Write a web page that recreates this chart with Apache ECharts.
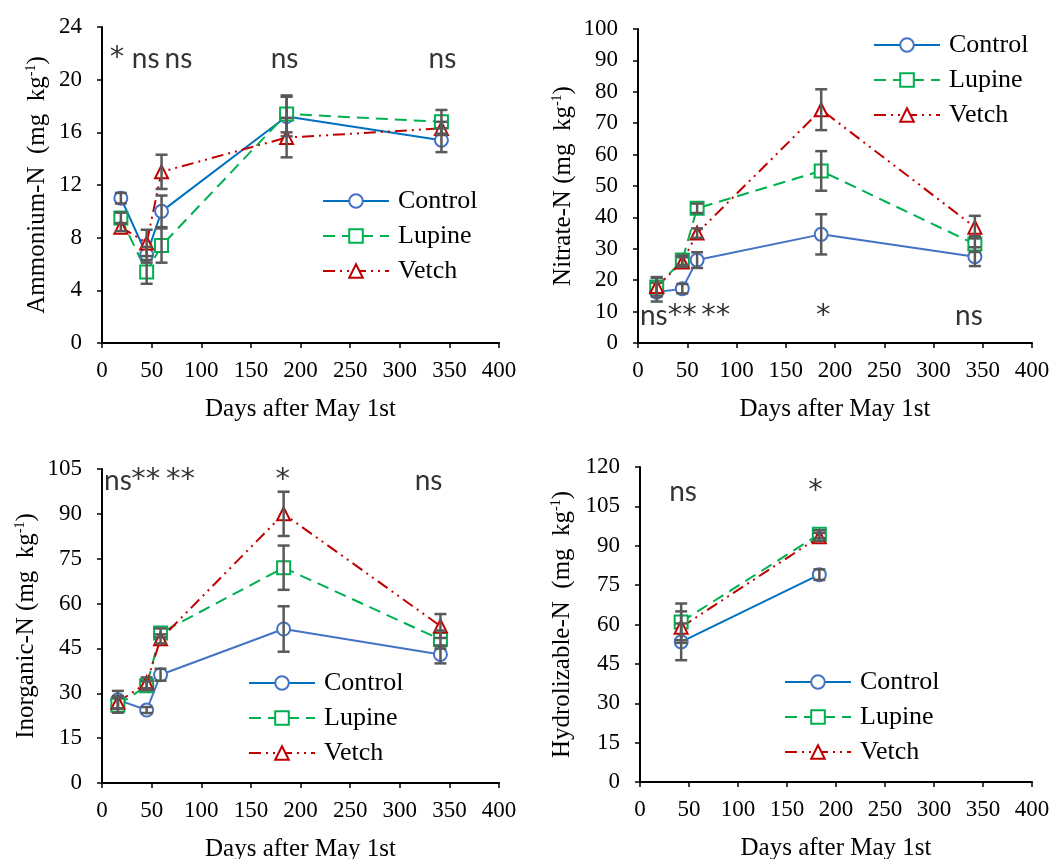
<!DOCTYPE html>
<html><head><meta charset="utf-8">
<script src="https://cdn.jsdelivr.net/npm/echarts@6/dist/echarts.min.js"></script>
<style>html,body{margin:0;padding:0;background:#fff}#c{width:1056px;height:859px}</style>
</head><body><div id="c"></div>
<script>
const seriesNames = ['Control', 'Lupine', 'Vetch'];

// Panel 1: Ammonium-N
const ammDays = [19, 45, 60, 186, 342];
const ammControl = [11.0, 6.7, 10.0, 17.2, 15.4];
const ammLupine = [9.5, 5.4, 7.4, 17.4, 16.8];
const ammVetch = [8.8, 7.6, 13.0, 15.6, 16.3];
const ammControlErr = [0.4, 0.6, 1.2, 1.5, 0.9];
const ammLupineErr = [0.4, 0.9, 1.3, 1.4, 0.9];
const ammVetchErr = [0.3, 1.0, 1.3, 1.5, 0.5];
const ammSigX = [15, 44, 77, 184, 343];
const ammSigText = ['*', 'ns', 'ns', 'ns', 'ns'];
const ammSigY = 21.6;

// Panel 2: Nitrate-N
const nitDays = [19, 45, 60, 186, 342];
const nitControl = [16.2, 17.3, 26.4, 34.6, 27.5];
const nitLupine = [17.8, 26.4, 42.9, 54.8, 31.5];
const nitVetch = [18.0, 25.8, 35.0, 74.3, 36.9];
const nitControlErr = [3.0, 1.5, 2.5, 6.4, 3.0];
const nitLupineErr = [3.0, 1.5, 1.5, 6.3, 2.5];
const nitVetchErr = [3.0, 1.5, 1.5, 6.5, 3.6];
const nitSigX = [16, 45, 79, 188, 336];
const nitSigText = ['ns', '**', '**', '*', 'ns'];
const nitSigY = 8.6;

// Panel 3: Inorganic-N
const inoDays = [16, 45, 59, 183, 341];
const inoControl = [27.8, 24.4, 36.2, 51.5, 43.0];
const inoLupine = [26.0, 32.5, 50.2, 72.0, 48.0];
const inoVetch = [27.0, 33.5, 48.2, 90.0, 52.5];
const inoControlErr = [3.0, 1.0, 2.0, 7.6, 3.0];
const inoLupineErr = [2.5, 1.5, 1.5, 7.4, 3.0];
const inoVetchErr = [2.0, 1.8, 1.5, 7.4, 4.0];
const inoSigX = [16, 44, 79, 182, 329];
const inoSigText = ['ns', '**', '**', '*', 'ns'];
const inoSigY = 101;

// Panel 4: Hydrolizable-N
const hydDays = [42, 183];
const hydControl = [53.4, 79.0];
const hydLupine = [61.0, 94.4];
const hydVetch = [59.0, 93.4];
const hydControlErr = [7.0, 2.0];
const hydLupineErr = [7.0, 1.5];
const hydVetchErr = [6.0, 1.5];
const hydSigX = [44, 179];
const hydSigText = ['ns', '*'];
const hydSigY = 110.5;

const xTickMax = 400, xTickStep = 50;

const panels = [
  { days: ammDays, vals: [ammControl, ammLupine, ammVetch], errs: [ammControlErr, ammLupineErr, ammVetchErr],
    sigX: ammSigX, sigText: ammSigText, sigY: ammSigY, yMax: 24, yStep: 4,
    yName: 'Ammonium-N  (mg  kg{sup|-1})', nameGap: 52,
    grid: { left: 102, top: 27, width: 397, height: 316 }, legend: { left: 317, top: 183 }, ctrlLine: '#0070C0' },
  { days: nitDays, vals: [nitControl, nitLupine, nitVetch], errs: [nitControlErr, nitLupineErr, nitVetchErr],
    sigX: nitSigX, sigText: nitSigText, sigY: nitSigY, yMax: 100, yStep: 10,
    yName: 'Nitrate-N (mg  kg{sup|-1})', nameGap: 62,
    grid: { left: 638, top: 29, width: 394, height: 314 }, legend: { left: 868, top: 27 }, ctrlLine: '#4472C4' },
  { days: inoDays, vals: [inoControl, inoLupine, inoVetch], errs: [inoControlErr, inoLupineErr, inoVetchErr],
    sigX: inoSigX, sigText: inoSigText, sigY: inoSigY, yMax: 105, yStep: 15,
    yName: 'Inorganic-N (mg  kg{sup|-1})', nameGap: 63,
    grid: { left: 102, top: 469, width: 397, height: 314 }, legend: { left: 243, top: 665 }, ctrlLine: '#4472C4' },
  { days: hydDays, vals: [hydControl, hydLupine, hydVetch], errs: [hydControlErr, hydLupineErr, hydVetchErr],
    sigX: hydSigX, sigText: hydSigText, sigY: hydSigY, yMax: 120, yStep: 15,
    yName: 'Hydrolizable-N  (mg  kg{sup|-1})', nameGap: 65,
    grid: { left: 640, top: 467, width: 392, height: 315 }, legend: { left: 779, top: 664 }, ctrlLine: '#0070C0' }
];

const serif = 'Liberation Serif, Times New Roman, serif';
const markerColors = ['#4472C4', '#00B050', '#C00000'];
const symbols = ['emptyCircle', 'emptyRect', 'emptyTriangle'];
const dashes = ['solid', [12, 7], [12, 5, 2, 5, 2, 5]];

const option = { animation: false, backgroundColor: '#fff', grid: [], xAxis: [], yAxis: [], legend: [], series: [] };

panels.forEach((p, i) => {
  option.grid.push(Object.assign({ outerBoundsMode: 'none', containLabel: false }, p.grid));
  option.xAxis.push({
    type: 'value', gridIndex: i, min: 0, max: xTickMax, interval: xTickStep,
    name: 'Days after May 1st', nameLocation: 'middle', nameGap: 54,
    nameTextStyle: { fontFamily: serif, fontSize: 25, color: '#000' },
    axisLine: { show: true, onZero: false, lineStyle: { color: '#000', width: 2 } },
    axisTick: { show: true, length: 5, lineStyle: { color: '#000', width: 1.5 } },
    axisLabel: { fontFamily: serif, fontSize: 23, color: '#000', margin: 16 },
    splitLine: { show: false }
  });
  option.yAxis.push({
    type: 'value', gridIndex: i, min: 0, max: p.yMax, interval: p.yStep,
    name: p.yName, nameLocation: 'middle', nameGap: p.nameGap,
    nameTextStyle: { fontFamily: serif, fontSize: 25, color: '#000',
      rich: { sup: { fontFamily: serif, fontSize: 14, color: '#000', padding: [0, 0, 12, 0] } } },
    axisLine: { show: true, lineStyle: { color: '#000', width: 2 } },
    axisTick: { show: true, length: 5, lineStyle: { color: '#000', width: 1.5 } },
    axisLabel: { fontFamily: serif, fontSize: 23, color: '#000', margin: 20 },
    splitLine: { show: false }
  });
  option.legend.push({
    orient: 'vertical', left: p.legend.left, top: p.legend.top,
    itemWidth: 66, itemHeight: 17, itemGap: 9,
    data: seriesNames,
    textStyle: { fontFamily: serif, fontSize: 26, color: '#000', padding: [0, 0, 0, 4] }
  });
  seriesNames.forEach((nm, k) => {
    option.series.push({
      name: nm, type: 'line', xAxisIndex: i, yAxisIndex: i,
      data: p.days.map((d, j) => [d, p.vals[k][j]]),
      symbol: symbols[k], symbolSize: 13,
      itemStyle: { color: markerColors[k], borderWidth: 2 },
      lineStyle: { color: k === 0 ? p.ctrlLine : markerColors[k], width: 2, type: dashes[k] },
      z: 3
    });
  });
  const errData = [];
  seriesNames.forEach((nm, k) => {
    p.days.forEach((d, j) => errData.push([d, p.vals[k][j] - p.errs[k][j], p.vals[k][j] + p.errs[k][j]]));
  });
  option.series.push({
    type: 'custom', xAxisIndex: i, yAxisIndex: i, data: errData, z: 4, silent: true,
    encode: { x: 0, y: [1, 2] },
    renderItem: (params, api) => {
      const x = api.value(0);
      const lo = api.coord([x, api.value(1)]);
      const hi = api.coord([x, api.value(2)]);
      const w = 6;
      const st = { stroke: '#595959', lineWidth: 2.5 };
      return { type: 'group', children: [
        { type: 'line', shape: { x1: hi[0], y1: hi[1], x2: lo[0], y2: lo[1] }, style: st },
        { type: 'line', shape: { x1: hi[0] - w, y1: hi[1], x2: hi[0] + w, y2: hi[1] }, style: st },
        { type: 'line', shape: { x1: lo[0] - w, y1: lo[1], x2: lo[0] + w, y2: lo[1] }, style: st }
      ] };
    }
  });
  option.series.push({
    type: 'scatter', xAxisIndex: i, yAxisIndex: i, silent: true, z: 5,
    symbolSize: 1, itemStyle: { color: 'rgba(0,0,0,0)' },
    data: p.sigX.map((x, j) => ({ value: [x, p.sigY], name: p.sigText[j] })),
    label: { show: true, position: 'inside',
      formatter: q => q.name.indexOf('*') >= 0 ? '{s|' + q.name + '}' : '{n|' + q.name + '}',
      rich: {
        n: { fontFamily: 'Lato, Open Sans, sans-serif', fontSize: 28, color: '#000' },
        s: { fontFamily: 'DejaVu Sans, sans-serif', fontSize: 29, color: '#000' }
      } }
  });
});

const chart = echarts.init(document.getElementById('c'), null, { renderer: 'canvas' });
chart.setOption(option);
</script></body></html>
